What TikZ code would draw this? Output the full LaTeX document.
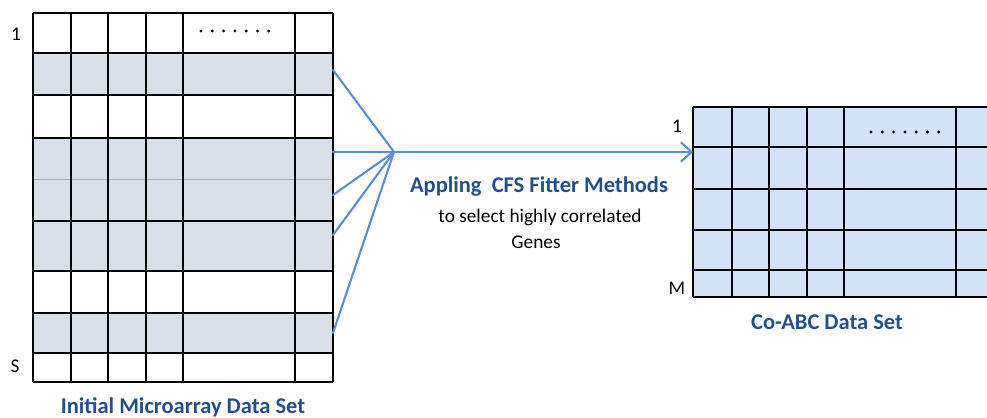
\documentclass[tikz,border=0pt]{standalone}
\usepackage{fontspec}
\setmainfont{Carlito}
\usepackage{xcolor}
\usetikzlibrary{arrows.meta}

\definecolor{rowgray}{HTML}{D8DFE9}
\definecolor{cellblue}{HTML}{D3E3F5}
\definecolor{titleblue}{HTML}{24508A}
\definecolor{linkblue}{HTML}{5B8FC8}

\tikzset{
  gridline/.style={black, line width=0.8pt},
  link/.style={linkblue, line width=1.2pt},
  heading/.style={titleblue, font=\fontsize{12.8}{15}\selectfont\bfseries},
  plain/.style={black, font=\fontsize{11}{13}\selectfont},
}

\begin{document}
\begin{tikzpicture}[x=0.02cm,y=-0.02cm]
\useasboundingbox (0,0) rectangle (987,418);

% initial data set, shaded rows first
\foreach \top/\bot in {53/95,138/271,313/353}
  \fill[rowgray] (33,\top) rectangle (333,\bot);
\draw[gray!60, line width=0.5pt] (33,179) -- (333,179);
\foreach \y in {13,53,95,138,221,271,313,353,382}
  \draw[gridline] (33,\y) -- (333,\y);
\foreach \x in {33,71,108,146,183,295,333}
  \draw[gridline] (\x,13) -- (\x,382);
\foreach \i in {0,...,6}
  \fill (201+11.3*\i,31) circle (1.6);

\node[plain] (firstrow) at (16,34) {1};
\node[plain] (lastrow) at (15,366) {S};
\node[heading] (initial) at (183,407) {Initial Microarray Data Set};

% reduced data set
\fill[cellblue] (693,107) rectangle (987,297);
\foreach \y in {107,147,189,230,270,297}
  \draw[gridline] (693,\y) -- (987,\y);
\foreach \x in {693,732,769,807,844,956}
  \draw[gridline] (\x,107) -- (\x,297);
\foreach \i in {0,...,6}
  \fill (871+11.3*\i,132) circle (1.6);

\node[plain] (topgene) at (677,126) {1};
\node[plain] (lastgene) at (677,288) {M};
\node[heading] (coabc) at (827,322) {Co-ABC Data Set};

% filter step
\node[heading] (method) at (539,187) {Appling\ \ CFS Fitter Methods};
\node[plain] (purpose) at (540,217) {to select highly correlated};
\node[plain] (genes) at (536,242) {Genes};

\coordinate (pick1) at (333,70);
\coordinate (pick2) at (333,152);
\coordinate (pick3) at (333,195);
\coordinate (pick4) at (333,235);
\coordinate (pick5) at (333,333);
\coordinate (merge) at (394,152);
\coordinate (target) at (693,152);

\foreach \p in {pick1,pick2,pick3,pick4,pick5}
  \draw[link, line cap=round] (\p) -- (merge);
\draw[link, -{Straight Barb[length=6pt,width=11pt]}] (merge) -- (target);

\end{tikzpicture}
\end{document}
